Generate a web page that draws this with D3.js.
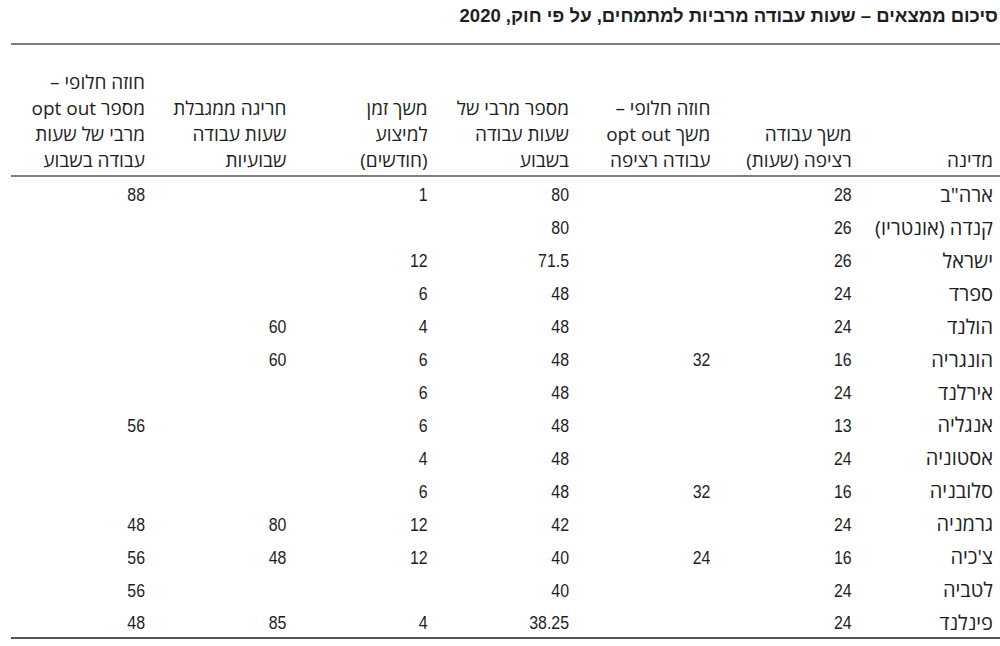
<!DOCTYPE html>
<html lang="he">
<head>
<meta charset="utf-8">
<script src="https://cdn.jsdelivr.net/npm/d3@7"></script>
<style>
  body { margin: 0; background: #fff; }
  svg { display: block; }
</style>
</head>
<body>
<div id="table"></div>
<script>
// Table content
const title = "סיכום ממצאים – שעות עבודה מרביות למתמחים, על פי חוק, 2020";

// column keys, right to left
const columns = ["country", "shift", "optShift", "weekMax", "avgPeriod", "exceed", "optWeek"];

const headers = [
  ["מדינה"],
  ["משך עבודה", "רציפה (שעות)"],
  ["חוזה חלופי –", "משך opt out", "עבודה רציפה"],
  ["מספר מרבי של", "שעות עבודה", "בשבוע"],
  ["משך זמן", "למיצוע", "(חודשים)"],
  ["חריגה ממגבלת", "שעות עבודה", "שבועיות"],
  ["חוזה חלופי –", "מספר opt out", "מרבי של שעות", "עבודה בשבוע"]
];

const countries = ["ארה\"ב", "קנדה (אונטריו)", "ישראל", "ספרד", "הולנד", "הונגריה", "אירלנד",
  "אנגליה", "אסטוניה", "סלובניה", "גרמניה", "צ'כיה", "לטביה", "פינלנד"];

const shiftHours = [28, 26, 26, 24, 24, 16, 24, 13, 24, 16, 24, 16, 24, 24];
const optOutShift = [null, null, null, null, null, 32, null, null, null, 32, null, 24, null, null];
const weeklyMax = [80, 80, 71.5, 48, 48, 48, 48, 48, 48, 48, 42, 40, 40, 38.25];
const avgMonths = [1, null, 12, 6, 4, 6, 6, 6, 4, 6, 12, 12, null, 4];
const weeklyExceed = [null, null, null, null, 60, 60, null, null, null, null, 80, 48, null, 85];
const optOutWeekly = [88, null, null, null, null, null, null, 56, null, null, 48, 56, 56, 48];

const width = 1000;
const height = 646;

const svg = d3.select("#table")
  .append("svg")
  .attr("width", width)
  .attr("height", height);

// right edge of each column
const x = d3.scalePoint()
  .domain(columns)
  .range([993, 145]);

// row centres
const y = d3.scalePoint()
  .domain(countries)
  .range([195, 623]);

const textColor = "#1e1e1e";
const lineColor = "#555";
const hebFont = "'Open Sans', 'DejaVu Sans', sans-serif";

// Title
svg.append("text")
  .attr("x", 998)
  .attr("y", 22)
  .attr("direction", "rtl")
  .attr("text-anchor", "start")
  .style("font-family", "'Liberation Sans', Arial, sans-serif")
  .style("font-weight", "bold")
  .style("font-size", "18.5px")
  .style("fill", textColor)
  .text(title);

// rules
svg.append("line")
  .attr("x1", 11).attr("x2", 1000)
  .attr("y1", 44).attr("y2", 44)
  .attr("stroke", lineColor).attr("stroke-width", 1.5);

svg.append("line")
  .attr("x1", 11).attr("x2", 1000)
  .attr("y1", 176).attr("y2", 176)
  .attr("stroke", lineColor).attr("stroke-width", 1.5);

svg.append("line")
  .attr("x1", 11).attr("x2", 1000)
  .attr("y1", 638).attr("y2", 638)
  .attr("stroke", lineColor).attr("stroke-width", 2);

// Header cells, bottom aligned
const lineH = 26;
const headG = svg.append("g")
  .style("font-family", hebFont)
  .style("font-size", "19px")
  .style("fill", textColor);

columns.forEach((col, i) => {
  const lines = headers[i];
  lines.forEach((ln, j) => {
    headG.append("text")
      .attr("x", x(col))
      .attr("y", 160 - (lines.length - 1 - j) * lineH)
      .attr("dy", "0.35em")
      .attr("direction", "rtl")
      .attr("text-anchor", "start")
      .text(ln);
  });
});

// Body rows
const series = {
  country: countries,
  shift: shiftHours,
  optShift: optOutShift,
  weekMax: weeklyMax,
  avgPeriod: avgMonths,
  exceed: weeklyExceed,
  optWeek: optOutWeekly
};

const bodyG = svg.append("g")
  .style("fill", textColor);

// country names
bodyG.selectAll("text.country")
  .data(countries)
  .join("text")
  .attr("class", "country")
  .attr("x", x("country"))
  .attr("y", d => y(d))
  .attr("dy", "0.35em")
  .attr("direction", "rtl")
  .attr("text-anchor", "start")
  .style("font-family", hebFont)
  .style("font-size", "20px")
  .text(d => d);

// numeric cells, narrowed digits
columns.slice(1).forEach(col => {
  const cells = countries.map((c, i) => ({ row: c, value: series[col][i] }))
    .filter(d => d.value !== null);

  bodyG.selectAll(`text.c-${col}`)
    .data(cells)
    .join("text")
    .attr("class", `c-${col}`)
    .attr("transform", d => `translate(${x(col)},${y(d.row)}) scale(0.86,1)`)
    .attr("dy", "0.35em")
    .attr("text-anchor", "end")
    .style("font-family", "'Liberation Sans', Arial, sans-serif")
    .style("font-size", "18.5px")
    .text(d => d.value);
});
</script>
</body>
</html>
